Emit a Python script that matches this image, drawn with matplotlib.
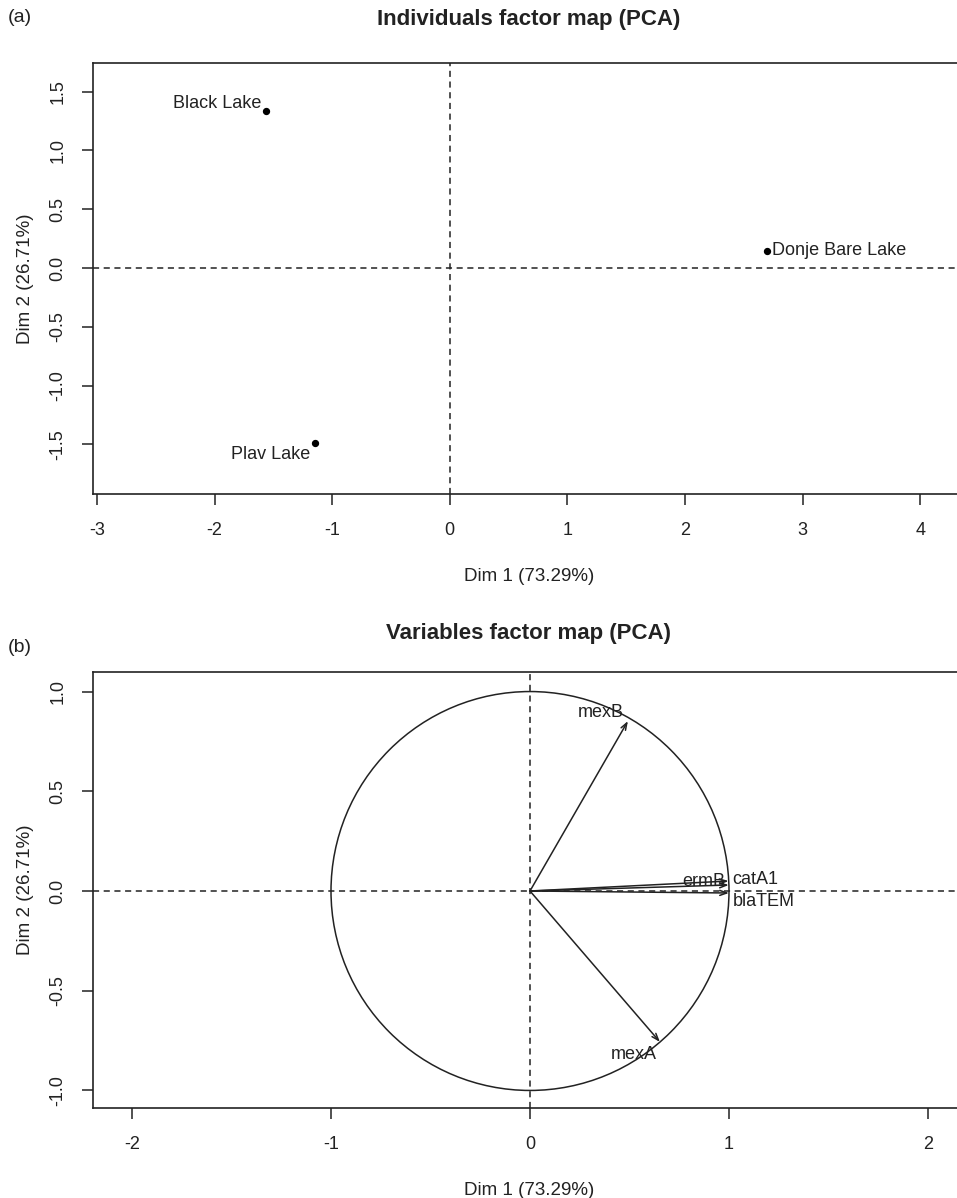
import numpy as np
import matplotlib.pyplot as plt
from matplotlib.patches import Circle

plt.rcParams['font.family'] = ['Liberation Sans', 'DejaVu Sans']
plt.rcParams['axes.unicode_minus'] = False

# individuals (panel a)
lakes = ['Black Lake', 'Donje Bare Lake', 'Plav Lake']
ind_x = [-1.565, 2.696, -1.148]
ind_y = [1.335, 0.145, -1.488]

# variables (panel b)
genes = ['mexB', 'ermB', 'catA1', 'blaTEM', 'mexA']
var_x = [0.492, 0.999, 0.998, 0.9999, 0.653]
var_y = [0.852, 0.03, 0.05, -0.01, -0.757]

xlab = 'Dim 1 (73.29%)'
ylab = 'Dim 2 (26.71%)'
ink = '#222222'

fig = plt.figure(figsize=(9.57, 11.98), dpi=100)

def style(ax):
    for s in ax.spines.values():
        s.set_color(ink)
        s.set_linewidth(1.2)
    ax.tick_params(direction='out', length=8, width=1.1, colors=ink,
                   labelsize=13)
    ax.tick_params(axis='x', pad=12)
    ax.tick_params(axis='y', pad=11)
    for t in ax.get_yticklabels():
        t.set_rotation(90)
        t.set_va('center')
    ax.set_xlabel(xlab, fontsize=13.5, color=ink, labelpad=21)
    ax.set_ylabel(ylab, fontsize=13.5, color=ink, labelpad=11)
    ax.axhline(0, color=ink, ls=(0, (4, 3)), lw=1.1)
    ax.axvline(0, color=ink, ls=(0, (4, 3)), lw=1.1)

# ---- panel (a)
ax1 = fig.add_axes([93/957, 1 - 494/1198, 872/957, 431/1198])
ax1.set_xlim(-3.034, 4.381)
ax1.set_ylim(-1.922, 1.743)
ax1.set_xticks([-3, -2, -1, 0, 1, 2, 3, 4])
ax1.set_yticks([-1.5, -1.0, -0.5, 0.0, 0.5, 1.0, 1.5])
ax1.set_yticklabels(['-1.5', '-1.0', '-0.5', '0.0', '0.5', '1.0', '1.5'])
style(ax1)
ax1.scatter(ind_x, ind_y, s=18, color='black', zorder=3)
offs = {'Black Lake': ((-4, 7), 'right'), 'Donje Bare Lake': ((5, 0), 'left'),
        'Plav Lake': ((-5, -12), 'right')}
for name, x, y in zip(lakes, ind_x, ind_y):
    o, ha = offs[name]
    ax1.annotate(name, (x, y), xytext=o, textcoords='offset pixels',
                 ha=ha, va='center', fontsize=13, color=ink)

# ---- panel (b)
ax2 = fig.add_axes([93/957, 1 - 1108/1198, 872/957, 436/1198])
ax2.set_xlim(-2.196, 2.186)
ax2.set_ylim(-1.088, 1.098)
ax2.set_xticks([-2, -1, 0, 1, 2])
ax2.set_yticks([-1.0, -0.5, 0.0, 0.5, 1.0])
ax2.set_yticklabels(['-1.0', '-0.5', '0.0', '0.5', '1.0'])
style(ax2)
ax2.add_patch(Circle((0, 0), 1, fill=False, color=ink, lw=1.1))
for x, y in zip(var_x, var_y):
    ax2.annotate('', xy=(x, y), xytext=(0, 0),
                 arrowprops=dict(arrowstyle='->,head_length=0.5,head_width=0.18',
                                 color=ink, lw=1.1, shrinkA=0, shrinkB=0))
voffs = {'mexB': ((-4, 9), 'right'), 'ermB': ((-4, 4), 'right'),
         'catA1': ((4, 2), 'left'), 'blaTEM': ((4, -9), 'left'),
         'mexA': ((-3, -13), 'right')}
for name, x, y in zip(genes, var_x, var_y):
    o, ha = voffs[name]
    ax2.annotate(name, (x, y), xytext=o, textcoords='offset pixels',
                 ha=ha, va='center', fontsize=13, color=ink)

fig.text(529/957, 1 - 19/1198, 'Individuals factor map (PCA)', fontsize=16,
         fontweight='bold', color=ink, ha='center', va='center')
fig.text(529/957, 1 - 634/1198, 'Variables factor map (PCA)', fontsize=16,
         fontweight='bold', color=ink, ha='center', va='center')
fig.text(8/957, 1 - 18/1198, '(a)', fontsize=14, color=ink, va='center')
fig.text(8/957, 1 - 648/1198, '(b)', fontsize=14, color=ink, va='center')

fig.savefig('out.png', dpi=100)
